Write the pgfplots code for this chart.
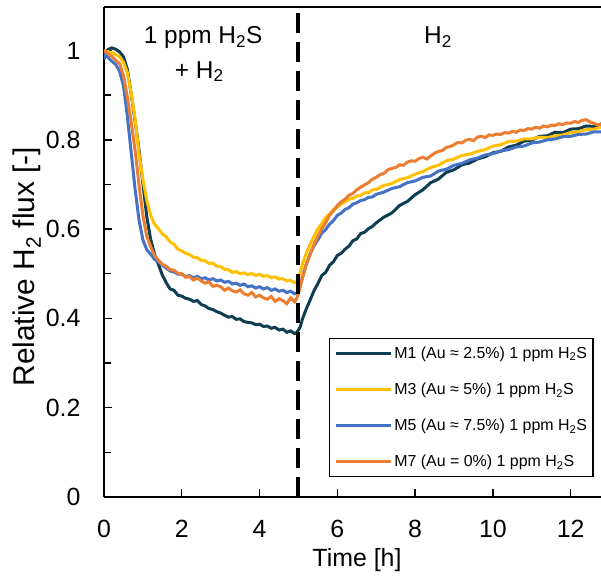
\documentclass[border=0pt]{standalone}
\usepackage{fontspec}
\setmainfont{Liberation Sans}
\usepackage{pgfplots}
\pgfplotsset{compat=1.18}
\definecolor{cMone}{HTML}{0F3D52}
\definecolor{cMthree}{HTML}{FFC000}
\definecolor{cMfive}{HTML}{4472C4}
\definecolor{cMseven}{HTML}{ED7D31}
\begin{document}
\begin{tikzpicture}
\begin{axis}[
  at={(0,0)}, anchor=south west,
  scale only axis, width=497bp, height=490bp,
  xmin=0, xmax=12.78, ymin=0, ymax=1.0975,
  axis x line*=box, axis y line*=left,
  xtick={0,2,4,6,8,10,12},
  ytick={0,0.2,0.4,0.6,0.8,1},
  minor ytick={0.1,0.3,0.5,0.7,0.9},
  xtick pos=bottom, ytick pos=left,
  tick align=inside,
  major tick length=8bp, minor tick length=7bp,
  axis line style={line width=1.6bp, black},
  every tick/.style={black, line width=1.4bp},
  ticklabel style={font=\fontsize{25}{29}\selectfont},
  /pgf/number format/assume math mode=true,
  yticklabel style={xshift=-20bp},
  xticklabel style={yshift=-20bp},
  label style={font=\fontsize{25}{30}\selectfont},
  xlabel={Time [h]},
  ylabel={Relative H\textsubscript{2} flux [-]},
  xlabel style={at={(rel axis cs:0.509,0)}, anchor=north, yshift=-51bp, inner sep=0pt},
  ylabel style={at={(rel axis cs:-0.183,0.47)}, anchor=north, inner sep=0pt, font=\fontsize{30}{34}\selectfont},
  legend style={at={(rel axis cs:0.985,0.325)}, anchor=north east, draw=black, line width=1.2bp,
    font=\fontsize{16}{19}\selectfont, inner xsep=4bp, inner ysep=4.5bp, row sep=15bp,
    nodes={inner xsep=2bp, inner ysep=4bp}},
  legend cell align=left,
  legend image code/.code={\draw[#1, line width=3.5bp] (0bp,0bp) -- (55bp,0bp);},
]
\addplot[cMone, line width=3bp] table {
0.00 0.992
0.10 1.002
0.20 1.006
0.30 1.003
0.40 0.997
0.50 0.986
0.60 0.958
0.70 0.902
0.80 0.842
0.90 0.778
1.00 0.702
1.10 0.628
1.20 0.577
1.30 0.544
1.40 0.521
1.50 0.497
1.60 0.480
1.70 0.466
1.80 0.463
1.90 0.452
2.00 0.450
2.10 0.445
2.20 0.443
2.30 0.438
2.40 0.440
2.50 0.431
2.60 0.428
2.70 0.422
2.80 0.420
2.90 0.415
3.00 0.412
3.10 0.407
3.20 0.403
3.30 0.404
3.40 0.398
3.50 0.399
3.60 0.393
3.70 0.391
3.80 0.390
3.90 0.386
4.00 0.387
4.10 0.382
4.20 0.383
4.30 0.378
4.40 0.380
4.50 0.374
4.60 0.376
4.70 0.369
4.80 0.372
4.90 0.366
4.95 0.368
5.00 0.374
5.05 0.382
5.10 0.398
5.20 0.421
5.30 0.441
5.40 0.462
5.50 0.478
5.60 0.496
5.70 0.503
5.80 0.519
5.90 0.527
6.00 0.541
6.10 0.546
6.20 0.555
6.30 0.562
6.40 0.574
6.50 0.578
6.60 0.590
6.70 0.593
6.80 0.601
6.90 0.606
7.00 0.614
7.20 0.627
7.40 0.636
7.60 0.653
7.80 0.662
8.00 0.677
8.20 0.688
8.40 0.704
8.60 0.712
8.80 0.727
9.00 0.733
9.20 0.744
9.40 0.748
9.60 0.757
9.80 0.762
10.00 0.771
10.20 0.774
10.40 0.784
10.60 0.788
10.80 0.797
11.00 0.799
11.20 0.808
11.40 0.809
11.60 0.817
11.80 0.816
12.00 0.824
12.20 0.825
12.40 0.831
12.60 0.830
12.80 0.836
};
\addlegendentry{M1 (Au ≈ 2.5\%) 1 ppm H\textsubscript{2}S}
\addplot[cMthree, line width=3bp] table {
0.00 1.000
0.10 0.997
0.20 0.996
0.30 0.991
0.40 0.986
0.50 0.974
0.60 0.951
0.70 0.904
0.80 0.846
0.90 0.770
1.00 0.711
1.10 0.664
1.20 0.631
1.30 0.611
1.40 0.601
1.50 0.589
1.60 0.583
1.70 0.571
1.80 0.566
1.90 0.555
2.00 0.551
2.10 0.546
2.20 0.543
2.30 0.537
2.40 0.536
2.50 0.530
2.60 0.529
2.70 0.523
2.80 0.524
2.90 0.517
3.00 0.516
3.10 0.510
3.20 0.509
3.30 0.503
3.40 0.505
3.50 0.500
3.60 0.502
3.70 0.498
3.80 0.501
3.90 0.496
4.00 0.499
4.10 0.494
4.20 0.496
4.30 0.491
4.40 0.493
4.50 0.488
4.60 0.489
4.70 0.484
4.80 0.485
4.90 0.480
4.95 0.481
5.00 0.490
5.05 0.505
5.10 0.521
5.20 0.546
5.30 0.566
5.40 0.584
5.50 0.601
5.60 0.612
5.70 0.626
5.80 0.634
5.90 0.644
6.00 0.649
6.10 0.657
6.20 0.661
6.30 0.667
6.40 0.669
6.50 0.674
6.60 0.676
6.70 0.681
6.80 0.682
6.90 0.688
7.00 0.689
7.20 0.698
7.40 0.702
7.60 0.711
7.80 0.715
8.00 0.723
8.20 0.729
8.40 0.738
8.60 0.743
8.80 0.753
9.00 0.757
9.20 0.765
9.40 0.768
9.60 0.774
9.80 0.778
10.00 0.786
10.20 0.789
10.40 0.796
10.60 0.797
10.80 0.802
11.00 0.802
11.20 0.806
11.40 0.805
11.60 0.809
11.80 0.811
12.00 0.816
12.20 0.818
12.40 0.823
12.60 0.824
12.80 0.829
};
\addlegendentry{M3 (Au ≈ 5\%) 1 ppm H\textsubscript{2}S}
\addplot[cMfive, line width=3bp] table {
0.00 0.980
0.05 0.992
0.10 0.985
0.20 0.976
0.30 0.969
0.40 0.954
0.50 0.921
0.60 0.854
0.70 0.771
0.80 0.689
0.90 0.621
1.00 0.576
1.10 0.554
1.20 0.544
1.30 0.532
1.40 0.527
1.50 0.519
1.60 0.513
1.70 0.506
1.80 0.504
1.90 0.499
2.00 0.499
2.10 0.494
2.20 0.496
2.30 0.491
2.40 0.494
2.50 0.489
2.60 0.491
2.70 0.486
2.80 0.489
2.90 0.484
3.00 0.486
3.10 0.481
3.20 0.483
3.30 0.477
3.40 0.479
3.50 0.474
3.60 0.477
3.70 0.471
3.80 0.473
3.90 0.468
4.00 0.471
4.10 0.466
4.20 0.469
4.30 0.463
4.40 0.466
4.50 0.461
4.60 0.463
4.70 0.458
4.80 0.461
4.90 0.455
4.95 0.456
5.00 0.462
5.05 0.476
5.10 0.491
5.20 0.521
5.30 0.544
5.40 0.563
5.50 0.576
5.60 0.591
5.70 0.599
5.80 0.611
5.90 0.619
6.00 0.631
6.10 0.636
6.20 0.644
6.30 0.648
6.40 0.656
6.50 0.659
6.60 0.664
6.70 0.666
6.80 0.671
6.90 0.672
7.00 0.678
7.20 0.683
7.40 0.691
7.60 0.695
7.80 0.704
8.00 0.708
8.20 0.716
8.40 0.719
8.60 0.730
8.80 0.734
9.00 0.743
9.20 0.747
9.40 0.755
9.60 0.759
9.80 0.766
10.00 0.769
10.20 0.775
10.40 0.778
10.60 0.784
10.80 0.786
11.00 0.793
11.20 0.795
11.40 0.800
11.60 0.802
11.80 0.807
12.00 0.808
12.20 0.812
12.40 0.813
12.60 0.818
12.80 0.818
};
\addlegendentry{M5 (Au ≈ 7.5\%) 1 ppm H\textsubscript{2}S}
\addplot[cMseven, line width=3bp] table {
0.00 1.000
0.10 0.993
0.20 0.987
0.30 0.978
0.40 0.971
0.50 0.944
0.60 0.896
0.70 0.839
0.80 0.776
0.90 0.699
1.00 0.631
1.10 0.584
1.20 0.561
1.30 0.541
1.40 0.530
1.50 0.521
1.60 0.517
1.70 0.509
1.80 0.508
1.90 0.501
2.00 0.500
2.10 0.492
2.20 0.494
2.30 0.486
2.40 0.490
2.50 0.484
2.60 0.479
2.70 0.482
2.80 0.472
2.90 0.474
3.00 0.471
3.10 0.463
3.20 0.468
3.30 0.462
3.40 0.459
3.50 0.464
3.60 0.455
3.70 0.452
3.80 0.458
3.90 0.448
4.00 0.452
4.10 0.446
4.20 0.443
4.30 0.449
4.40 0.438
4.50 0.444
4.60 0.440
4.70 0.433
4.80 0.446
4.90 0.437
4.95 0.444
5.00 0.455
5.05 0.472
5.10 0.490
5.20 0.521
5.30 0.544
5.40 0.566
5.50 0.584
5.60 0.601
5.70 0.614
5.80 0.631
5.90 0.641
6.00 0.653
6.10 0.661
6.20 0.667
6.30 0.676
6.40 0.680
6.50 0.688
6.60 0.694
6.70 0.699
6.80 0.704
6.90 0.712
7.00 0.716
7.10 0.722
7.20 0.725
7.30 0.733
7.40 0.736
7.50 0.738
7.60 0.744
7.70 0.743
7.80 0.750
7.90 0.753
8.00 0.752
8.10 0.758
8.20 0.761
8.30 0.757
8.40 0.764
8.50 0.770
8.60 0.774
8.70 0.776
8.80 0.783
8.90 0.785
9.00 0.789
9.10 0.794
9.20 0.793
9.30 0.799
9.40 0.801
9.50 0.798
9.60 0.806
9.70 0.808
9.80 0.805
9.90 0.811
10.00 0.810
10.10 0.813
10.20 0.812
10.30 0.816
10.40 0.815
10.50 0.819
10.60 0.817
10.70 0.822
10.80 0.821
10.90 0.825
11.00 0.824
11.10 0.828
11.20 0.826
11.30 0.831
11.40 0.829
11.50 0.833
11.60 0.832
11.70 0.836
11.80 0.834
11.90 0.838
12.00 0.837
12.10 0.841
12.20 0.839
12.30 0.844
12.40 0.845
12.50 0.840
12.60 0.837
12.70 0.833
12.80 0.836
};
\addlegendentry{M7 (Au = 0\%) 1 ppm H\textsubscript{2}S}
\draw[black, line width=4bp, dash pattern=on 20bp off 9bp] (axis cs:5,0) -- (axis cs:5,1.0975);
\node[anchor=base, font=\fontsize{24.5}{28}\selectfont, inner sep=0pt] at (axis cs:2.55,1.016) {1 ppm H\textsubscript{2}S};
\node[anchor=base, font=\fontsize{24.5}{28}\selectfont, inner sep=0pt] at (axis cs:2.45,0.938) {+ H\textsubscript{2}};
\node[anchor=base, font=\fontsize{24.5}{28}\selectfont, inner sep=0pt] at (axis cs:8.59,1.016) {H\textsubscript{2}};
\end{axis}
\pgfresetboundingbox
\path[use as bounding box] (-104bp,-87bp) rectangle (497bp,497bp);
\end{tikzpicture}
\end{document}
